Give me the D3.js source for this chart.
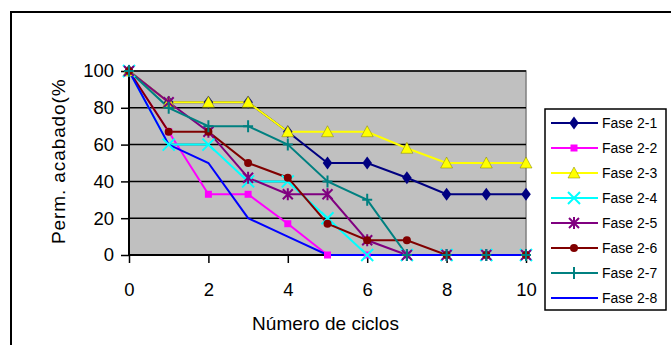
<!DOCTYPE html>
<html><head><meta charset="utf-8">
<script src="https://cdn.jsdelivr.net/npm/d3@7"></script>
<style>body{margin:0;background:#fff}svg{display:block;font-family:Arial,"Liberation Sans",sans-serif}</style>
</head><body><svg id="c" width="671" height="345"></svg>
<script>
const cycles = [0,1,2,3,4,5,6,7,8,9,10];
const seriesNames = ["Fase 2-1","Fase 2-2","Fase 2-3","Fase 2-4","Fase 2-5","Fase 2-6","Fase 2-7","Fase 2-8"];
const fase21 = [100,83,83,83,67,50,50,42,33,33,33];
const fase22 = [100,67,33,33,17,0,0,0,0,0,0];
const fase23 = [100,83,83,83,67,67,67,58,50,50,50];
const fase24 = [100,60,60,40,40,20,0,0,0,0,0];
const fase25 = [100,83,67,42,33,33,8,0,0,0,0];
const fase26 = [100,67,67,50,42,17,8,8,0,0,0];
const fase27 = [100,80,70,70,60,40,30,0,0,0,0];
const fase28 = [100,60,50,20,10,0,0,0,0,0,0];
const xTicks = [0,2,4,6,8,10];
const yTicks = [0,20,40,60,80,100];
const xTitle = "Número de ciclos";
const yTitle = "Perm. acabado(%)";

const colors = ["#000080","#FF00FF","#FFFF00","#00FFFF","#800080","#800000","#008080","#0000FF"];
const markers = ["diamond","square","triangle","x","asterisk","circle","plus","none"];
const allValues = [fase21,fase22,fase23,fase24,fase25,fase26,fase27,fase28];
const series = seriesNames.map((n,i)=>({name:n,values:allValues[i],color:colors[i],marker:markers[i]}));

const svg = d3.select("#c");
svg.append("rect").attr("x",11).attr("y",12).attr("width",720).attr("height",400)
  .attr("fill","#fff").attr("stroke","#000").attr("stroke-width",2);

const L=129,R=526,T=71,B=255;
const x = d3.scaleLinear().domain([0,10]).range([L,R]);
const y = d3.scaleLinear().domain([0,100]).range([B,T]);

svg.append("rect").attr("x",L).attr("y",T).attr("width",R-L).attr("height",B-T)
  .attr("fill","#C0C0C0").attr("stroke","#808080").attr("stroke-width",1.5);

svg.append("g").selectAll("line").data(yTicks.filter(d=>d>0)).join("line")
  .attr("x1",L).attr("x2",R).attr("y1",d=>y(d)).attr("y2",d=>y(d))
  .attr("stroke","#000").attr("stroke-width",1.5);

const yAxis = svg.append("g").attr("transform",`translate(${L},0)`)
  .call(d3.axisLeft(y).tickValues(yTicks).tickSize(8).tickPadding(8));
const xAxis = svg.append("g").attr("transform",`translate(0,${B})`)
  .call(d3.axisBottom(x).tickValues(xTicks).tickSize(8).tickPadding(12));
[yAxis,xAxis].forEach(a=>{
  a.select(".domain").remove();
  a.selectAll(".tick line").attr("stroke","#000").attr("stroke-width",1.5);
  a.selectAll("text").attr("font-size",18.5).attr("fill","#000").attr("font-family","Arial, 'Liberation Sans', sans-serif");
});
yAxis.selectAll(".tick text").attr("x",-15);
xAxis.selectAll(".tick text").attr("dy",null).attr("y",41);
svg.append("line").attr("x1",L).attr("x2",L).attr("y1",T).attr("y2",B).attr("stroke","#000").attr("stroke-width",2);
svg.append("line").attr("x1",L).attr("x2",R).attr("y1",B).attr("y2",B).attr("stroke","#000").attr("stroke-width",2);

svg.append("text").attr("x",(L+R)/2-2).attr("y",330).attr("text-anchor","middle")
  .attr("font-size",19).text(xTitle);
svg.append("clipPath").attr("id","yclip").append("rect").attr("x",0).attr("y",79).attr("width",120).attr("height",260);
svg.append("g").attr("clip-path","url(#yclip)").append("text")
  .attr("transform","translate(65,244) rotate(-90)").attr("font-size",19)
  .attr("letter-spacing",0.9).text(yTitle);

const line = d3.line().x((d,i)=>x(cycles[i])).y(d=>y(d));
svg.append("g").selectAll("path").data(series).join("path")
  .attr("d",s=>line(s.values)).attr("fill","none").attr("stroke",s=>s.color).attr("stroke-width",2);

function drawMarker(g, type, color){
  if(type==="none") return;
  if(type==="diamond") g.append("path").attr("d",d3.symbol(d3.symbolDiamond, 60)()).attr("fill",color).attr("transform","scale(1.15,0.9)");
  else if(type==="square") g.append("rect").attr("x",-3.5).attr("y",-3.5).attr("width",7).attr("height",7).attr("fill",color);
  else if(type==="triangle") g.append("path").attr("d","M0,-6L6,5L-6,5Z").attr("fill",color).attr("stroke","#808000").attr("stroke-width",0.5);
  else if(type==="circle") g.append("circle").attr("r",4).attr("fill",color);
  else if(type==="x") g.append("path").attr("d","M-6,-6L6,6M-6,6L6,-6").attr("stroke",color).attr("stroke-width",2);
  else if(type==="asterisk") g.append("path").attr("d","M-5,-5L5,5M-5,5L5,-5M0,-6L0,6").attr("stroke",color).attr("stroke-width",2);
  else if(type==="plus") g.append("path").attr("d","M-5,0L5,0M0,-6L0,6").attr("stroke",color).attr("stroke-width",2);
}
series.forEach(s=>{
  const g = svg.append("g");
  s.values.forEach((v,i)=>{
    const mg = g.append("g").attr("transform",`translate(${x(cycles[i])},${y(v)})`);
    drawMarker(mg, s.marker, s.color);
  });
});

const lg = svg.append("g");
lg.append("rect").attr("x",545).attr("y",109).attr("width",121).attr("height",201)
  .attr("fill","#fff").attr("stroke","#000").attr("stroke-width",1.5);
const ly = d3.scalePoint().domain(seriesNames).range([123,298]);
series.forEach(s=>{
  const yy = ly(s.name);
  lg.append("line").attr("x1",551).attr("x2",598).attr("y1",yy).attr("y2",yy).attr("stroke",s.color).attr("stroke-width",2);
  const mg = lg.append("g").attr("transform",`translate(574,${yy})`);
  drawMarker(mg, s.marker, s.color);
  lg.append("text").attr("x",602).attr("y",yy).attr("dy","0.36em").attr("font-size",14).text(s.name);
});
</script></body></html>
